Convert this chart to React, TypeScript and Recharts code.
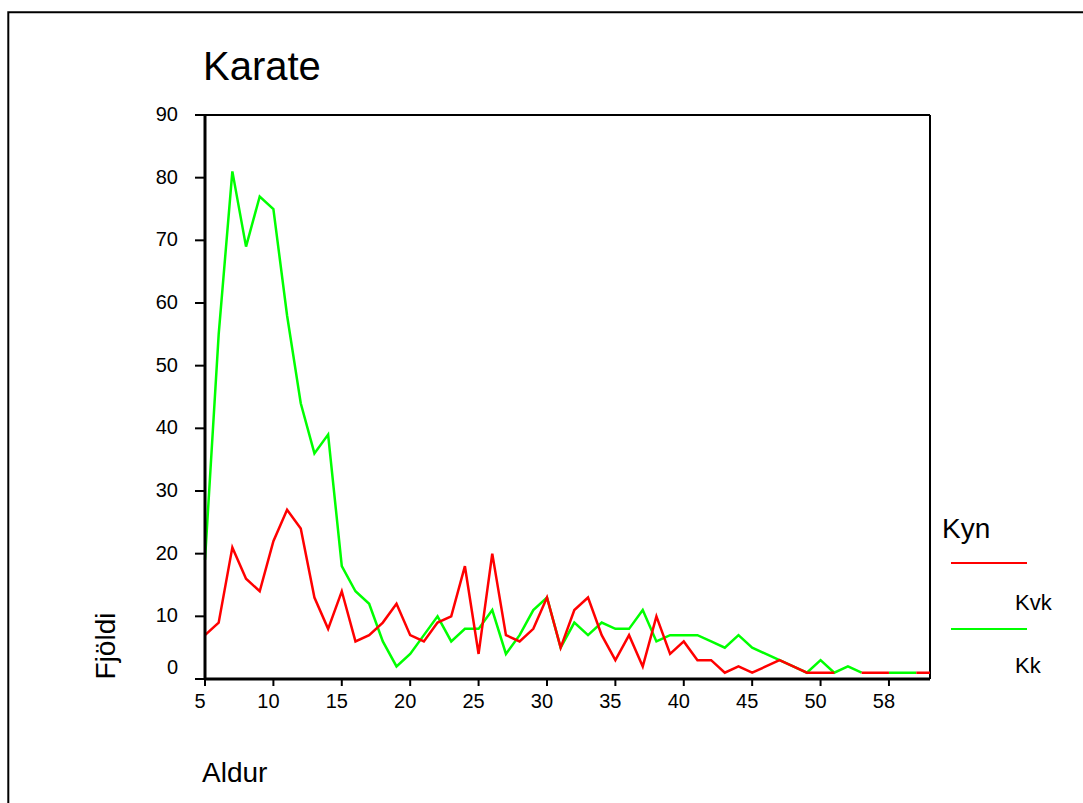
import React from 'react';
import { LineChart, Line, XAxis, YAxis, ReferenceLine } from 'recharts';

const ages = [
  '5', '6', '7', '8', '9', '10', '11', '12', '13', '14',
  '15', '16', '17', '18', '19', '20', '21', '22', '23', '24',
  '25', '26', '27', '28', '29', '30', '31', '32', '33', '34',
  '35', '36', '37', '38', '39', '40', '41', '42', '43', '44',
  '45', '46', '47', '48', '49', '50', '51', '52', '53', '55',
  '58', '59', '61', '62',
];

const kvk: (number | null)[] = [
  7, 9, 21, 16, 14, 22, 27, 24, 13, 8,
  14, 6, 7, 9, 12, 7, 6, 9, 10, 18,
  4, 20, 7, 6, 8, 13, 5, 11, 13, 7,
  3, 7, 2, 10, 4, 6, 3, 3, 1, 2,
  1, 2, 3, 2, 1, 1, 1, null, 1, 1,
  1, null, 1, 1,
];

const kk: (number | null)[] = [
  19, 55, 81, 69, 77, 75, 58, 44, 36, 39,
  18, 14, 12, 6, 2, 4, 7, 10, 6, 8,
  8, 11, 4, 7, 11, 13, 5, 9, 7, 9,
  8, 8, 11, 6, 7, 7, 7, 6, 5, 7,
  5, 4, 3, 2, 1, 3, 1, 2, 1, null,
  1, 1, 1, null,
];

const yTicks = [0, 10, 20, 30, 40, 50, 60, 70, 80, 90];

const seriesNames = { kvk: 'Kvk', kk: 'Kk' };
const colors = { kvk: '#ff0000', kk: '#00ff00' };

const data = ages.map((a, i) => ({ age: a, kvk: kvk[i], kk: kk[i] }));

const FONT = '"Liberation Sans", Arial, Helvetica, sans-serif';

const XTick = (props: any) => {
  const { x, y, payload } = props;
  return (
    <text x={x - 5} y={y} dy="0.71em" textAnchor="middle" fontSize={20} fontFamily={FONT} fill="#000">
      {payload.value}
    </text>
  );
};

const YTick = (props: any) => {
  const { x, y, payload } = props;
  const shift = payload.value === 0 ? -12 : -1;
  return (
    <text x={x} y={y + shift} dy="0.355em" textAnchor="end" fontSize={20} fontFamily={FONT} fill="#000">
      {payload.value}
    </text>
  );
};

export default function App() {
  return (
    <div style={{ position: 'fixed', left: 0, top: 0, width: 1083, height: 803, overflow: 'hidden', background: '#fff' }}>
      <div style={{ position: 'absolute', left: 0, top: 0 }}>
        <LineChart
          width={1083}
          height={803}
          data={data}
          margin={{ top: 115, right: 153, bottom: 94, left: 145 }}
        >
          <ReferenceLine y={90} stroke="#000" strokeWidth={2} ifOverflow="visible" />
          <ReferenceLine x={ages[ages.length - 1]} stroke="#000" strokeWidth={2} ifOverflow="visible" />
          <XAxis
            dataKey="age"
            type="category"
            interval={4}
            height={30}
            tickSize={7}
            tickMargin={8}
            axisLine={{ stroke: '#000', strokeWidth: 3 }}
            tickLine={{ stroke: '#000', strokeWidth: 2 }}
            tick={<XTick />}
          />
          <YAxis
            width={60}
            domain={[0, 90]}
            ticks={yTicks}
            type="number"
            tickSize={10}
            tickMargin={17}
            axisLine={{ stroke: '#000', strokeWidth: 3 }}
            tickLine={{ stroke: '#000', strokeWidth: 2 }}
            tick={<YTick />}
          />
          <Line
            type="linear"
            dataKey="kk"
            name={seriesNames.kk}
            stroke={colors.kk}
            strokeWidth={2.5}
            dot={false}
            connectNulls={false}
            isAnimationActive={false}
          />
          <Line
            type="linear"
            dataKey="kvk"
            name={seriesNames.kvk}
            stroke={colors.kvk}
            strokeWidth={2.5}
            dot={false}
            connectNulls={false}
            isAnimationActive={false}
          />
        </LineChart>
      </div>
      <svg
        width={1083}
        height={803}
        style={{ position: 'absolute', left: 0, top: 0, pointerEvents: 'none' }}
        fontFamily={FONT}
      >
        <path d="M 8.3 803 L 8.3 12.3 L 1083 12.3" fill="none" stroke="#000" strokeWidth={2} />
        <text x={203} y={80} fontSize={40} fill="#000">Karate</text>
        <text x={202} y={782} fontSize={28} fill="#000">Aldur</text>
        <text
          x={115}
          y={646}
          fontSize={28}
          fill="#000"
          textAnchor="middle"
          transform="rotate(-90 115 646)"
        >
          Fjöldi
        </text>
        <text x={942} y={538} fontSize={28} fill="#000">Kyn</text>
        <line x1={951} x2={1027} y1={563} y2={563} stroke={colors.kvk} strokeWidth={2} />
        <text x={1015} y={610} fontSize={22} fill="#000">{seriesNames.kvk}</text>
        <line x1={951} x2={1027} y1={629} y2={629} stroke={colors.kk} strokeWidth={2} />
        <text x={1015} y={673} fontSize={22} fill="#000">{seriesNames.kk}</text>
      </svg>
    </div>
  );
}
